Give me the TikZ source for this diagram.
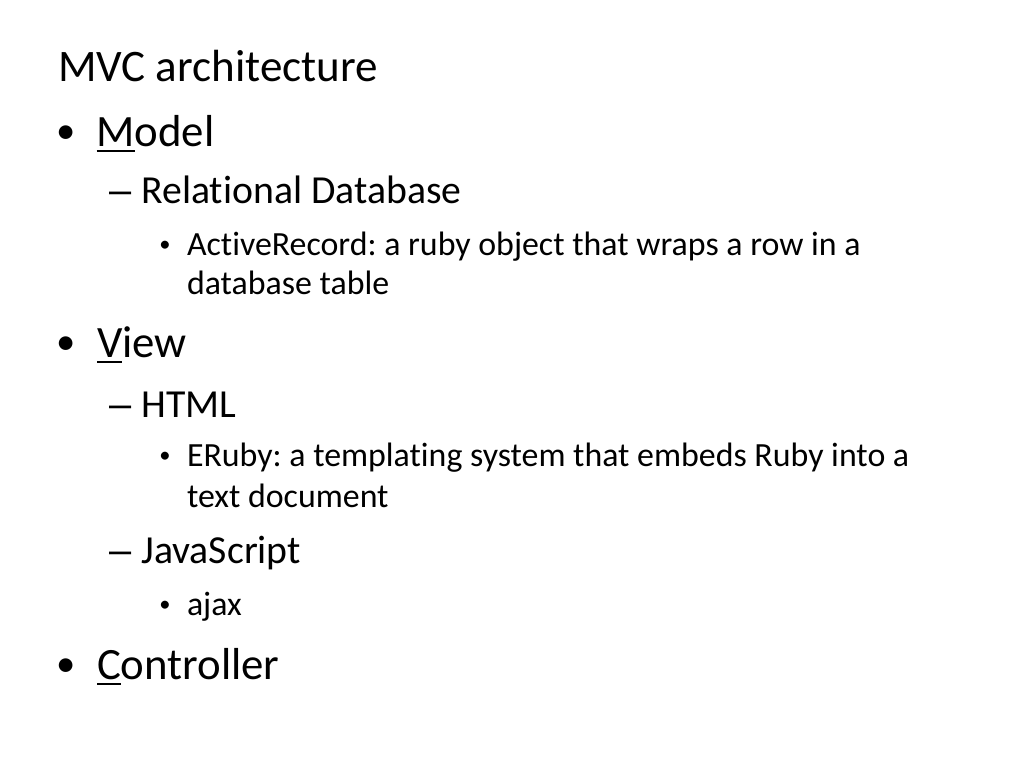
\documentclass[tikz,border=0pt]{standalone}
\usepackage{fontspec}
\setmainfont{Carlito}[Ligatures=CommonOff]
\newfontfamily\dashfont{Liberation Sans}
\newcommand\ulc[1]{\setbox0\hbox{#1}\rlap{\rule[-4.8pt]{\wd0}{1.5pt}}\box0}
\frenchspacing
\begin{document}
\begin{tikzpicture}[x=0.75pt,y=-0.75pt,
  every node/.style={inner sep=0pt,outer sep=0pt,anchor=base west},
  ttl/.style={font=\fontsize{33.8}{40}\selectfont},
  lone/.style={font=\fontsize{33.6}{40}\selectfont},
  ltwo/.style={font=\fontsize{29.8}{36}\selectfont},
  lthree/.style={font=\fontsize{25.4}{30}\selectfont},
  bone/.style={anchor=base,font=\fontsize{29}{35}\selectfont},
  bthree/.style={anchor=base,font=\fontsize{16.9}{20}\selectfont},
  dsh/.style={font=\dashfont\fontsize{29.8}{36}\selectfont}]
\useasboundingbox[fill=white] (0,0) rectangle (1024,768);
\node[ttl] (title) at (58,81) {MVC architecture};
% Model
\node[bone] (b1) at (66,143.5) {•};
\node[lone] (model) at (96.5,146) {\ulc{M}odel};
\node[dsh] (d1) at (109,203) {–};
\node[ltwo] (reldb) at (141.5,203) {Relational Database};
\node[bthree] (b11) at (165,251) {•};
\node[lthree] (ar1) at (187,255) {ActiveRecord: a ruby object that wraps a row in a};
\node[lthree] (ar2) at (187,294) {database table};
% View
\node[bone] (b2) at (66,354.5) {•};
\node[lone] (view) at (97,357) {\ulc{V}iew};
\node[dsh] (d2) at (109,417) {–};
\node[ltwo] (html) at (141.5,417) {HTML};
\node[bthree] (b21) at (165,462) {•};
\node[lthree] (er1) at (187,466) {ERuby: a templating system that embeds Ruby into a};
\node[lthree] (er2) at (187,507) {text document};
\node[dsh] (d3) at (109,563) {–};
\node[ltwo] (js) at (141.5,563) {JavaScript};
\node[bthree] (b31) at (165,611) {•};
\node[lthree] (ajax) at (187,615) {ajax};
% Controller
\node[bone] (b3) at (66,676.5) {•};
\node[lone] (ctrl) at (97,679) {\ulc{C}ontroller};
\end{tikzpicture}
\end{document}
